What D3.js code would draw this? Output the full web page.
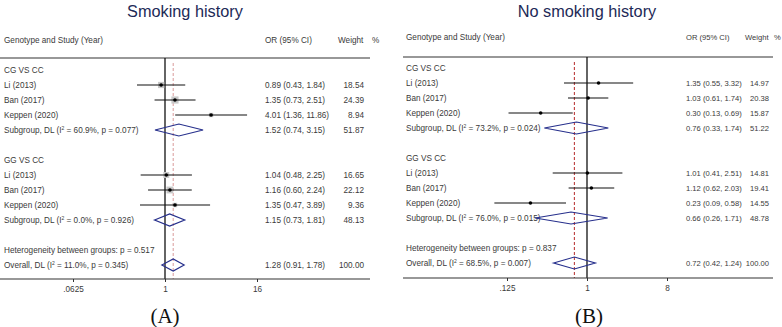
<!DOCTYPE html>
<html><head><meta charset="utf-8">
<script src="https://cdn.jsdelivr.net/npm/d3@7"></script>
<style>
body{margin:0;background:#fff;}
svg{display:block;font-family:"Liberation Sans",Arial,sans-serif;}
</style></head>
<body><svg id="chart" width="782" height="327"></svg>
<script>
// ---------- data ----------
const groupLabels = ["CG VS CC", "GG VS CC"];
const studies = ["Li (2013)", "Ban (2017)", "Keppen (2020)"];
const axisTicksA = [0.0625, 1, 16];
const axisTickLabelsA = [".0625", "1", "16"];
const axisTicksB = [0.125, 1, 8];
const axisTickLabelsB = [".125", "1", "8"];

// Panel A: Smoking history
const cgOR_A = [0.89, 1.35, 4.01];
const cgLow_A = [0.43, 0.73, 1.36];
const cgHigh_A = [1.84, 2.51, 11.86];
const cgWeight_A = [18.54, 24.39, 8.94];
const ggOR_A = [1.04, 1.16, 1.35];
const ggLow_A = [0.48, 0.60, 0.47];
const ggHigh_A = [2.25, 2.24, 3.89];
const ggWeight_A = [16.65, 22.12, 9.36];
const subOR_A = [1.52, 1.15];
const subLow_A = [0.74, 0.73];
const subHigh_A = [3.15, 1.81];
const subWeight_A = [51.87, 48.13];
const subI2_A = ["60.9%", "0.0%"];
const subP_A = ["0.077", "0.926"];
const overall_A = [1.28, 0.91, 1.78, 100.00];
const overallI2_A = "11.0%", overallP_A = "0.345", hetP_A = "0.517";

// Panel B: No smoking history
const cgOR_B = [1.35, 1.03, 0.30];
const cgLow_B = [0.55, 0.61, 0.13];
const cgHigh_B = [3.32, 1.74, 0.69];
const cgWeight_B = [14.97, 20.38, 15.87];
const ggOR_B = [1.01, 1.12, 0.23];
const ggLow_B = [0.41, 0.62, 0.09];
const ggHigh_B = [2.51, 2.03, 0.58];
const ggWeight_B = [14.81, 19.41, 14.55];
const subOR_B = [0.76, 0.66];
const subLow_B = [0.33, 0.26];
const subHigh_B = [1.74, 1.71];
const subWeight_B = [51.22, 48.78];
const subI2_B = ["73.2%", "76.0%"];
const subP_B = ["0.024", "0.015"];
const overall_B = [0.72, 0.42, 1.24, 100.00];
const overallI2_B = "68.5%", overallP_B = "0.007", hetP_B = "0.837";

// ---------- drawing ----------
const svg = d3.select("#chart");
const TXT = "#3a3a3a";
const NAVY = "#262f8c";
const FS = 8.2;

function fmtCI(o, l, h) { return o.toFixed(2) + " (" + l.toFixed(2) + ", " + h.toFixed(2) + ")"; }

function drawPanel(p) {
  const g = svg.append("g");
  const x = d3.scaleLog().base(2).domain([p.ticks[0], p.ticks[2]]).range(p.tickRange);
  const y = i => p.y0 + i * p.step;

  // title
  g.append("text").attr("x", p.titleX).attr("y", 17).attr("text-anchor", "middle")
    .attr("font-size", 16.3).attr("fill", "#1d2a57").text(p.title);

  // headers
  g.append("text").attr("x", p.labelX).attr("y", p.headY).attr("font-size", FS).attr("fill", TXT)
    .text("Genotype and Study (Year)");
  g.append("text").attr("x", p.orX).attr("y", p.headY).attr("font-size", p.statFS).attr("fill", TXT).text("OR (95% CI)");
  g.append("text").attr("x", p.weightX).attr("y", p.headY).attr("font-size", p.statFS).attr("fill", TXT).text("Weight");
  g.append("text").attr("x", p.pctX).attr("y", p.headY).attr("font-size", p.statFS).attr("fill", TXT).text("%");

  // top rule
  g.append("line").attr("x1", p.lineX1).attr("x2", p.lineX2).attr("y1", p.topY).attr("y2", p.topY)
    .attr("stroke", "#333").attr("stroke-width", 1.2);

  // reference line at OR = 1
  g.append("line").attr("x1", x(1)).attr("x2", x(1)).attr("y1", p.topY).attr("y2", p.axisY)
    .attr("stroke", "#111").attr("stroke-width", 1.3);
  // dashed overall line
  g.append("line").attr("x1", x(p.overall[0])).attr("x2", x(p.overall[0])).attr("y1", p.topY + 5).attr("y2", p.axisY)
    .attr("stroke", p.dashColor).attr("stroke-width", 1).attr("stroke-dasharray", "3,2");

  function rowText(i, label) {
    g.append("text").attr("x", p.labelX).attr("y", y(i) + 3).attr("font-size", FS).attr("fill", TXT).text(label);
  }
  function statText(i, o, l, h, w) {
    g.append("text").attr("x", p.orX).attr("y", y(i) + 3).attr("font-size", p.statFS).attr("fill", TXT).text(fmtCI(o, l, h));
    g.append("text").attr("x", p.wRight).attr("y", y(i) + 3).attr("font-size", p.statFS).attr("fill", TXT)
      .attr("text-anchor", "end").text(w.toFixed(2));
  }
  function subLabel(i, prefix, I2, pv) {
    const t = g.append("text").attr("x", p.labelX).attr("y", y(i) + 3).attr("font-size", FS).attr("fill", TXT);
    t.append("tspan").text(prefix + " (I");
    t.append("tspan").attr("font-size", 5).attr("dy", -3).text("2");
    t.append("tspan").attr("dy", 3).text(" = " + I2 + ", p = " + pv + ")");
  }
  function diamond(i, o, l, h) {
    const yy = y(i), hh = 6;
    g.append("path").attr("d", `M${x(l)},${yy}L${x(o)},${yy - hh}L${x(h)},${yy}L${x(o)},${yy + hh}Z`)
      .attr("fill", "none").attr("stroke", NAVY).attr("stroke-width", 1.2);
  }

  const groups = [
    { start: 0, or: p.cgOR, lo: p.cgLow, hi: p.cgHigh, w: p.cgW },
    { start: 6, or: p.ggOR, lo: p.ggLow, hi: p.ggHigh, w: p.ggW }
  ];
  groups.forEach((grp, gi) => {
    rowText(grp.start, groupLabels[gi]);
    studies.forEach((s, k) => {
      const i = grp.start + 1 + k;
      rowText(i, s);
      statText(i, grp.or[k], grp.lo[k], grp.hi[k], grp.w[k]);
      if (p.boxes) {
        const sz = 1.45 * Math.sqrt(grp.w[k]);
        g.append("rect").attr("x", x(grp.or[k]) - sz / 2).attr("y", y(i) - sz / 2)
          .attr("width", sz).attr("height", sz).attr("fill", "#c8c8c8");
      }
      g.append("line").attr("x1", x(grp.lo[k])).attr("x2", x(grp.hi[k])).attr("y1", y(i)).attr("y2", y(i))
        .attr("stroke", "#111").attr("stroke-width", 1.1);
      g.append("circle").attr("cx", x(grp.or[k])).attr("cy", y(i)).attr("r", 1.8).attr("fill", "#000");
    });
    const si = grp.start + 4;
    subLabel(si, "Subgroup, DL", p.subI2[gi], p.subP[gi]);
    statText(si, p.subOR[gi], p.subLow[gi], p.subHigh[gi], p.subW[gi]);
    diamond(si, p.subOR[gi], p.subLow[gi], p.subHigh[gi]);
  });

  rowText(12, "Heterogeneity between groups: p = " + p.hetP);
  subLabel(13, "Overall, DL", p.overallI2, p.overallP);
  statText(13, p.overall[0], p.overall[1], p.overall[2], p.overall[3]);
  diamond(13, p.overall[0], p.overall[1], p.overall[2]);

  // bottom axis
  const ax = g.append("g").attr("transform", `translate(0,${p.axisY})`)
    .call(d3.axisBottom(x).tickValues(p.ticks).tickSize(3).tickSizeOuter(0)
      .tickFormat((d, i) => p.tickLabels[i]));
  ax.select(".domain").remove();
  ax.selectAll(".tick line").attr("stroke", "#333");
  ax.selectAll(".tick text").attr("font-size", FS).attr("fill", TXT).attr("dy", "0.9em")
    .attr("font-family", "Liberation Sans, Arial, sans-serif");
  g.append("line").attr("x1", p.lineX1).attr("x2", p.lineX2).attr("y1", p.axisY).attr("y2", p.axisY)
    .attr("stroke", "#333").attr("stroke-width", 1.2);

  // panel letter
  g.append("text").attr("x", p.letterX).attr("y", 323).attr("text-anchor", "middle")
    .attr("font-family", "Liberation Serif, Times New Roman, serif").attr("font-size", 21)
    .attr("fill", "#111").text(p.letter);
}

drawPanel({
  title: "Smoking history", titleX: 185, letter: "(A)", letterX: 165,
  ticks: axisTicksA, tickLabels: axisTickLabelsA, tickRange: [73, 257],
  y0: 70, step: 15, headY: 43, topY: 58, axisY: 279, statFS: 8.2,
  labelX: 4, orX: 265, weightX: 338, pctX: 372, wRight: 364, lineX1: 0, lineX2: 370,
  dashColor: "#d99a9a", boxes: true,
  cgOR: cgOR_A, cgLow: cgLow_A, cgHigh: cgHigh_A, cgW: cgWeight_A,
  ggOR: ggOR_A, ggLow: ggLow_A, ggHigh: ggHigh_A, ggW: ggWeight_A,
  subOR: subOR_A, subLow: subLow_A, subHigh: subHigh_A, subW: subWeight_A,
  subI2: subI2_A, subP: subP_A, overall: overall_A,
  overallI2: overallI2_A, overallP: overallP_A, hetP: hetP_A
});

drawPanel({
  title: "No smoking history", titleX: 587, letter: "(B)", letterX: 589,
  ticks: axisTicksB, tickLabels: axisTickLabelsB, tickRange: [507, 667],
  y0: 68, step: 15, headY: 40, topY: 57, axisY: 278, statFS: 7.6,
  labelX: 406, orX: 686, weightX: 745, pctX: 774, wRight: 769, lineX1: 403, lineX2: 773,
  dashColor: "#b52a2a", boxes: false,
  cgOR: cgOR_B, cgLow: cgLow_B, cgHigh: cgHigh_B, cgW: cgWeight_B,
  ggOR: ggOR_B, ggLow: ggLow_B, ggHigh: ggHigh_B, ggW: ggWeight_B,
  subOR: subOR_B, subLow: subLow_B, subHigh: subHigh_B, subW: subWeight_B,
  subI2: subI2_B, subP: subP_B, overall: overall_B,
  overallI2: overallI2_B, overallP: overallP_B, hetP: hetP_B
});
</script></body></html>
